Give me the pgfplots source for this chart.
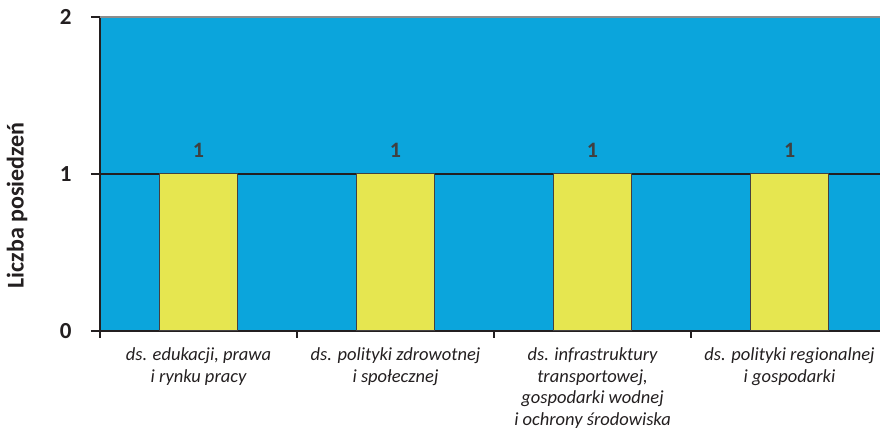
\documentclass[border=0pt]{standalone}
\usepackage{fontspec}
\setmainfont{Carlito}
\usepackage{pgfplots}
\pgfplotsset{compat=1.18}
\definecolor{bgblue}{HTML}{0BA5DC}
\definecolor{baryellow}{HTML}{E6E650}
\definecolor{axisdark}{HTML}{231F20}
\begin{document}
\begin{tikzpicture}
\begin{axis}[
  scale only axis, width=780pt, height=314pt,
  xmin=-0.5, xmax=3.459, ymin=0, ymax=2,
  axis x line*=bottom, axis y line*=left,
  axis line style={axisdark, line width=2pt},
  axis background/.style={fill=bgblue},
  /pgf/number format/assume math mode=true,
  ybar, bar width=0.4,
  ytick={0,1,2},
  yticklabel style={font=\bfseries\fontsize{23}{27}\selectfont, color=axisdark, xshift=-16pt, anchor=east},
  y tick style={axisdark, line width=2pt},
  extra y ticks={1}, extra y tick labels={},
  extra y tick style={grid=major, major tick length=0pt},
  grid style={axisdark, line width=1.5pt},
  tick align=outside, major tick length=9pt,
  xtick={0,1,2,3},
  xticklabels={{ds. edukacji, prawa\\i rynku pracy},{ds. polityki zdrowotnej\\i społecznej},{ds. infrastruktury\\transportowej,\\gospodarki wodnej\\i ochrony środowiska},{ds. polityki regionalnej\\i gospodarki}},
  xticklabel style={align=center, font=\itshape\fontsize{18.5}{21.7}\selectfont, color=axisdark, yshift=-4pt},
  x tick style={draw=none},
  extra x ticks={-0.5,0.5,1.5,2.5}, extra x tick labels={},
  extra x tick style={x tick style={draw=axisdark, line width=2pt}, major tick length=7pt},
  ylabel={Liczba posiedzeń},
  ylabel style={font=\bfseries\fontsize{24}{28}\selectfont, color=axisdark, at={(axis description cs:-0.1064,0.4)}, anchor=center},
  nodes near coords,
  every node near coord/.append style={font=\bfseries\fontsize{22}{26}\selectfont, color=black!75, anchor=south, inner sep=0pt, yshift=16pt},
]
\addplot[fill=baryellow, draw=axisdark!85, line width=1pt] coordinates {(0,1) (1,1) (2,1) (3,1)};
\draw[gray!90, line width=2pt] (rel axis cs:0,1) -- (rel axis cs:1,1);
\end{axis}
\pgfresetboundingbox
\path[use as bounding box] (-100pt,-99pt) rectangle (780pt,331pt);
\end{tikzpicture}
\end{document}
